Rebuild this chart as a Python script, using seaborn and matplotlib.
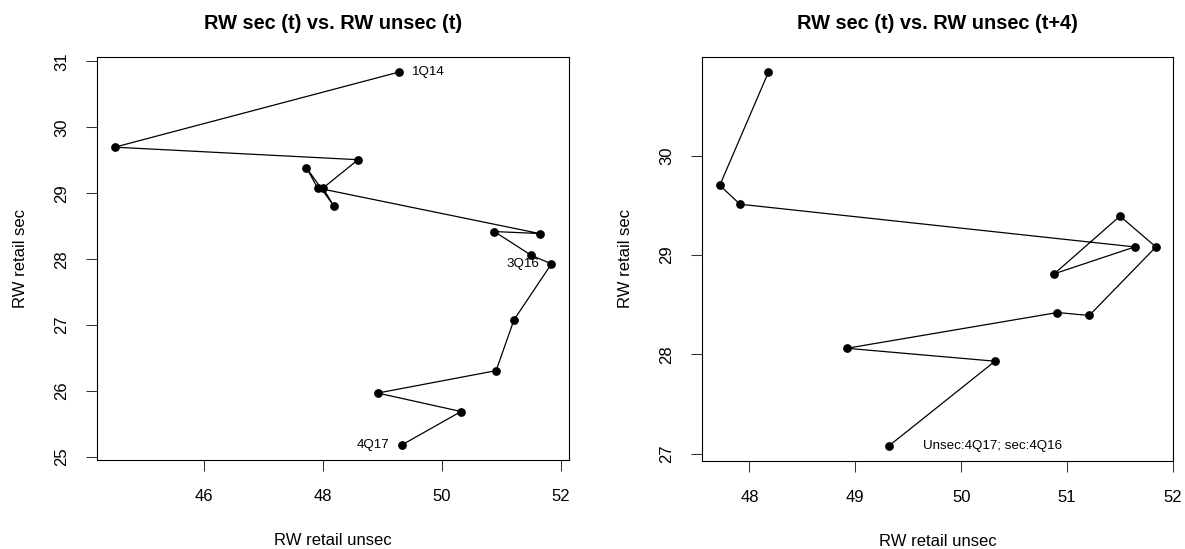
import numpy as np
import pandas as pd
import seaborn as sns
import matplotlib.pyplot as plt

# quarterly values, 1Q14 .. 4Q17
quarters = ['1Q14', '2Q14', '3Q14', '4Q14', '1Q15', '2Q15', '3Q15', '4Q15',
            '1Q16', '2Q16', '3Q16', '4Q16', '1Q17', '2Q17', '3Q17', '4Q17']
rw_unsec = [49.28, 44.50, 48.59, 48.00, 48.18, 47.72, 47.91, 51.64,
            50.88, 51.50, 51.84, 51.21, 50.91, 48.92, 50.32, 49.32]
rw_sec = [30.84, 29.70, 29.51, 29.08, 28.81, 29.39, 29.08, 28.39,
          28.42, 28.06, 27.93, 27.08, 26.31, 25.97, 25.69, 25.18]

left_xticks = [46, 48, 50, 52]
left_yticks = [25, 26, 27, 28, 29, 30, 31]
right_xticks = [48, 49, 50, 51, 52]
right_yticks = [27, 28, 29, 30]

plt.rcParams['font.family'] = ['Liberation Sans', 'DejaVu Sans']


def r_limits(v):
    """R style 4% axis expansion"""
    lo, hi = min(v), max(v)
    pad = (hi - lo) * 0.04
    return lo - pad, hi + pad


def style_axes(ax, xticks, yticks, title):
    ax.set_xticks(xticks)
    ax.set_yticks(yticks)
    ax.tick_params(direction='out', length=8, width=0.75, labelsize=12,
                   color='#333333')
    ax.tick_params(axis='x', pad=13)
    ax.tick_params(axis='y', pad=12)
    plt.setp(ax.get_yticklabels(), rotation=90, va='center')
    for s in ax.spines.values():
        s.set_linewidth(0.8)
        s.set_color('black')
    ax.set_xlabel('RW retail unsec', fontsize=12, labelpad=21)
    ax.set_ylabel('RW retail sec', fontsize=12, labelpad=19)
    ax.set_title(title, fontsize=14.4, fontweight='bold', pad=20)


def draw_path(ax, x, y):
    df = pd.DataFrame({'x': x, 'y': y})
    sns.lineplot(data=df, x='x', y='y', sort=False, estimator=None,
                 color='black', linewidth=0.9, marker='o', markersize=6.3,
                 markeredgewidth=0, markerfacecolor='black', ax=ax)


def main():
    fig = plt.figure(figsize=(11.85, 5.49), dpi=100)
    ax1 = fig.add_axes([0.0821, 0.162, 0.398, 0.734])
    ax2 = fig.add_axes([0.5927, 0.161, 0.3975, 0.735])

    # left: sec(t) vs unsec(t)
    draw_path(ax1, rw_unsec, rw_sec)
    ax1.set_xlim(*r_limits(rw_unsec))
    ax1.set_ylim(*r_limits(rw_sec))
    style_axes(ax1, left_xticks, left_yticks, 'RW sec (t) vs. RW unsec (t)')
    ax1.annotate(quarters[0], (rw_unsec[0], rw_sec[0]), xytext=(9, 0),
                 textcoords='offset points', ha='left', va='center',
                 fontsize=9.6)
    ax1.annotate(quarters[10], (rw_unsec[10], rw_sec[10]), xytext=(-9, 0),
                 textcoords='offset points', ha='right', va='center',
                 fontsize=9.6)
    ax1.annotate(quarters[15], (rw_unsec[15], rw_sec[15]), xytext=(-9, 0),
                 textcoords='offset points', ha='right', va='center',
                 fontsize=9.6)

    # right: sec(t) vs unsec(t+4)
    x_lead = rw_unsec[4:]
    y_lag = rw_sec[:12]
    draw_path(ax2, x_lead, y_lag)
    ax2.set_xlim(*r_limits(x_lead))
    ax2.set_ylim(*r_limits(y_lag))
    style_axes(ax2, right_xticks, right_yticks, 'RW sec (t) vs. RW unsec (t+4)')
    ax2.annotate('Unsec:' + quarters[15] + '; sec:' + quarters[11],
                 (x_lead[-1], y_lag[-1]), xytext=(24, 0),
                 textcoords='offset points', ha='left', va='center',
                 fontsize=9.6)

    fig.savefig('out.png', dpi=100)


if __name__ == "__main__":
    main()
